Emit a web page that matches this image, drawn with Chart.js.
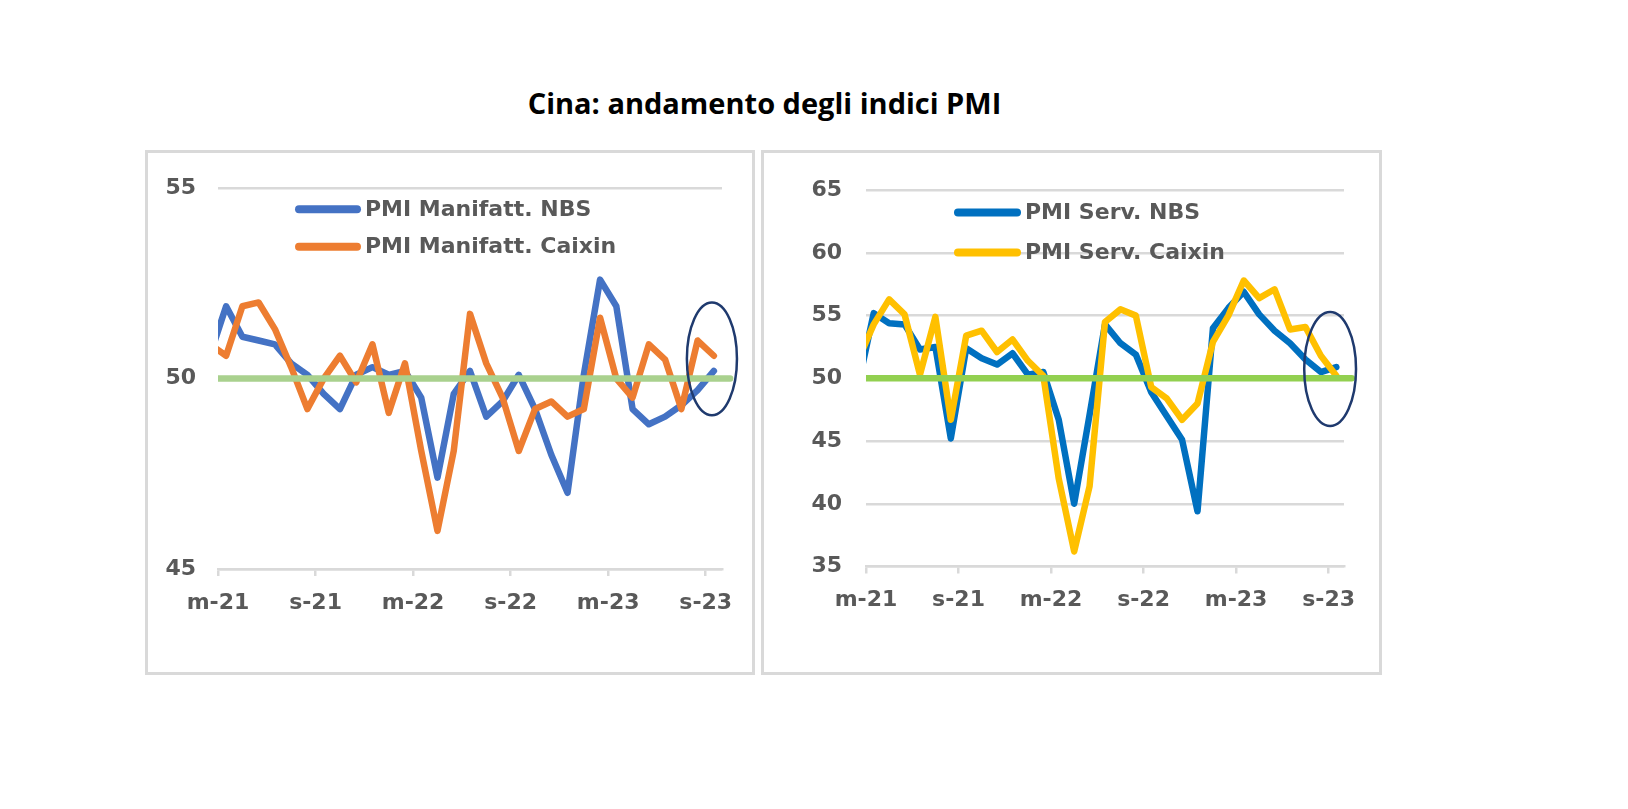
<!DOCTYPE html>
<html lang="it">
<head>
<meta charset="utf-8">
<title>Cina: andamento degli indici PMI</title>
<script src="https://cdn.jsdelivr.net/npm/chart.js@4.4.1/dist/chart.umd.min.js"></script>
<style>
  body { margin: 0; background: #fff; width: 1628px; height: 809px; position: relative; overflow: hidden; }
  #titolo { position: absolute; left: 0; width: 1529px; top: 88px; text-align: center;
            font: 700 29px "Open Sans"; line-height: 29px; color: #000; }
  .riquadro { position: absolute; top: 150px; height: 525px; border: 3px solid #d9d9d9;
              box-sizing: border-box; background: #fff; }
  #box-manif { left: 145px; width: 610px; }
  #box-serv { left: 761px; width: 621px; }
  canvas { display: block; }
</style>
</head>
<body>
<div id="titolo">Cina: andamento degli indici PMI</div>
<div class="riquadro" id="box-manif"><canvas id="manif" width="604" height="519"></canvas></div>
<div class="riquadro" id="box-serv"><canvas id="serv" width="615" height="519"></canvas></div>

<script>
// mesi: feb-21 .. set-23 (il primo punto cade prima dell'asse e viene tagliato)
const mesi = ['feb-21','mar-21','apr-21','mag-21','giu-21','lug-21','ago-21','set-21','ott-21','nov-21','dic-21',
  'gen-22','feb-22','mar-22','apr-22','mag-22','giu-22','lug-22','ago-22','set-22','ott-22','nov-22','dic-22',
  'gen-23','feb-23','mar-23','apr-23','mag-23','giu-23','lug-23','ago-23','set-23'];
const mesiTacche = ['mar-21','set-21','mar-22','set-22','mar-23','set-23'];
const etichetteAsse = ['m-21','s-21','m-22','s-22','m-23','s-23'];

const manifNBS = [50.6, 51.9, 51.1, 51.0, 50.9, 50.4, 50.1, 49.6, 49.2, 50.1, 50.3,
  50.1, 50.2, 49.5, 47.4, 49.6, 50.2, 49.0, 49.4, 50.1, 49.2, 48.0, 47.0,
  50.1, 52.6, 51.9, 49.2, 48.8, 49.0, 49.3, 49.7, 50.2];
const manifCaixin = [50.9, 50.6, 51.9, 52.0, 51.3, 50.3, 49.2, 50.0, 50.6, 49.9, 50.9,
  49.1, 50.4, 48.1, 46.0, 48.1, 51.7, 50.4, 49.5, 48.1, 49.2, 49.4, 49.0,
  49.2, 51.6, 50.0, 49.5, 50.9, 50.5, 49.2, 51.0, 50.6];
const servNBS = [49.5, 55.2, 54.4, 54.3, 52.3, 52.5, 45.2, 52.4, 51.6, 51.1, 52.0,
  50.3, 50.5, 46.7, 40.0, 47.1, 54.3, 52.8, 51.9, 48.9, 47.0, 45.1, 39.4,
  54.0, 55.6, 56.9, 55.1, 53.8, 52.8, 51.5, 50.5, 50.9];
const servCaixin = [51.5, 54.3, 56.3, 55.1, 50.3, 54.9, 46.7, 53.4, 53.8, 52.1, 53.1,
  51.4, 50.2, 42.0, 36.2, 41.4, 54.5, 55.5, 55.0, 49.3, 48.4, 46.7, 48.0,
  52.9, 55.0, 57.8, 56.4, 57.1, 53.9, 54.1, 51.8, 50.2];

const sogliaPMI = 50;

// il mese i occupa l'intervallo [i-1, i] sull'asse, il punto sta a meta'
const punti = vals => vals.map((v, i) => ({ x: i - 0.5, y: v }));
const tacche = mesiTacche.map(m => mesi.indexOf(m) - 1);
// la linea verde arriva un mese oltre l'ultimo dato
const lineaSoglia = [{ x: -0.5, y: sogliaPMI }, { x: mesi.length - 0.5, y: sogliaPMI }];

Chart.defaults.font.family = '"DejaVu Sans"';
const grigio = '#595959';
const fontAssi = { size: 22, weight: 'bold' };

const legendaInterna = {
  id: 'legendaInterna',
  afterDatasetsDraw(chart, args, o) {
    const ctx = chart.ctx, a = chart.chartArea;
    ctx.save();
    ctx.font = 'bold 22px "DejaVu Sans"';
    ctx.textBaseline = 'middle';
    o.voci.forEach((nome, i) => {
      const ds = chart.data.datasets.find(d => d.label === nome);
      const x = a.left + o.dx, y = a.top + o.dy + i * o.passo;
      ctx.strokeStyle = ds.borderColor;
      ctx.lineWidth = 8;
      ctx.lineCap = 'round';
      ctx.beginPath();
      ctx.moveTo(x + 4, y);
      ctx.lineTo(x + o.lung - 4, y);
      ctx.stroke();
      ctx.fillStyle = grigio;
      ctx.fillText(nome, x + o.lung + 4, y + 1);
    });
    ctx.restore();
  }
};

const ellisse = {
  id: 'ellisse',
  afterDatasetsDraw(chart, args, o) {
    const xs = chart.scales.x, ys = chart.scales.y, ctx = chart.ctx;
    const cx = xs.getPixelForValue(o.x), cy = ys.getPixelForValue(o.y);
    const rx = Math.abs(xs.getPixelForValue(o.x + o.rx) - cx);
    const ry = Math.abs(ys.getPixelForValue(o.y + o.ry) - cy);
    ctx.save();
    ctx.strokeStyle = '#1f3a6e';
    ctx.lineWidth = 2.5;
    ctx.beginPath();
    ctx.ellipse(cx, cy, rx, ry, 0, 0, Math.PI * 2);
    ctx.stroke();
    ctx.restore();
  }
};

function serie(label, vals, colore, ordine) {
  return {
    label: label, data: punti(vals), borderColor: colore, backgroundColor: colore,
    borderWidth: 6.5, pointRadius: 0, tension: 0, order: ordine,
    borderJoinStyle: 'round', borderCapStyle: 'round',
    clip: { left: 0, top: 30, right: 30, bottom: 30 }
  };
}

function creaGrafico(id, c) {
  return new Chart(document.getElementById(id), {
    type: 'line',
    data: {
      datasets: [
        { label: 'soglia', data: lineaSoglia, borderColor: c.verde, borderWidth: 6.5, pointRadius: 0,
          order: 0, borderCapStyle: 'round', clip: { left: 0, top: 30, right: 30, bottom: 30 } },
        serie(c.nomi[1], c.valori[1], c.colori[1], 1),
        serie(c.nomi[0], c.valori[0], c.colori[0], 2)
      ]
    },
    options: {
      responsive: false,
      animation: false,
      events: [],
      layout: { padding: { left: 0, right: c.padR, top: c.padT, bottom: 0 } },
      plugins: {
        legend: { display: false },
        tooltip: { enabled: false },
        legendaInterna: { voci: c.nomi, dx: c.leg.dx, dy: c.leg.dy, passo: c.leg.passo, lung: c.leg.lung },
        ellisse: c.ellisse
      },
      scales: {
        x: {
          type: 'linear', min: 0, max: mesi.length - 1,
          afterBuildTicks: ax => { ax.ticks = tacche.map(v => ({ value: v })); },
          afterFit: s => { s.height = c.altX; },
          ticks: { callback: (v, i) => etichetteAsse[i], font: fontAssi, color: grigio,
                   padding: 14, maxRotation: 0, autoSkip: false },
          grid: { drawOnChartArea: false, color: '#d9d9d9', lineWidth: 2.5, tickLength: 7 },
          border: { color: '#d9d9d9', width: 2.5 }
        },
        y: {
          min: c.min, max: c.max,
          afterFit: s => { s.width = c.largY; },
          ticks: { stepSize: 5, font: fontAssi, color: grigio, padding: c.padY },
          grid: { color: '#d9d9d9', lineWidth: 2.5, drawTicks: false },
          border: { display: false }
        }
      }
    },
    plugins: [legendaInterna, ellisse]
  });
}

creaGrafico('manif', {
  nomi: ['PMI Manifatt. NBS', 'PMI Manifatt. Caixin'],
  valori: [manifNBS, manifCaixin],
  colori: ['#4472c4', '#ed7d31'],
  verde: '#a9d18e',
  min: 45, max: 55,
  padT: 30.5, padR: 30, largY: 70, padY: 22, altX: 103,
  leg: { dx: 77, dy: 21, passo: 37.5, lung: 66 },
  ellisse: { x: 30.38, y: 50.52, rx: 1.54, ry: 1.48 }
});

creaGrafico('serv', {
  nomi: ['PMI Serv. NBS', 'PMI Serv. Caixin'],
  valori: [servNBS, servCaixin],
  colori: ['#0070c0', '#ffc000'],
  verde: '#92d050',
  min: 35, max: 65,
  padT: 30.5, padR: 35, largY: 102, padY: 24, altX: 105.5,
  leg: { dx: 88, dy: 22.2, passo: 40, lung: 67 },
  ellisse: { x: 30.1, y: 50.75, rx: 1.68, ry: 4.54 }
});
</script>
</body>
</html>
